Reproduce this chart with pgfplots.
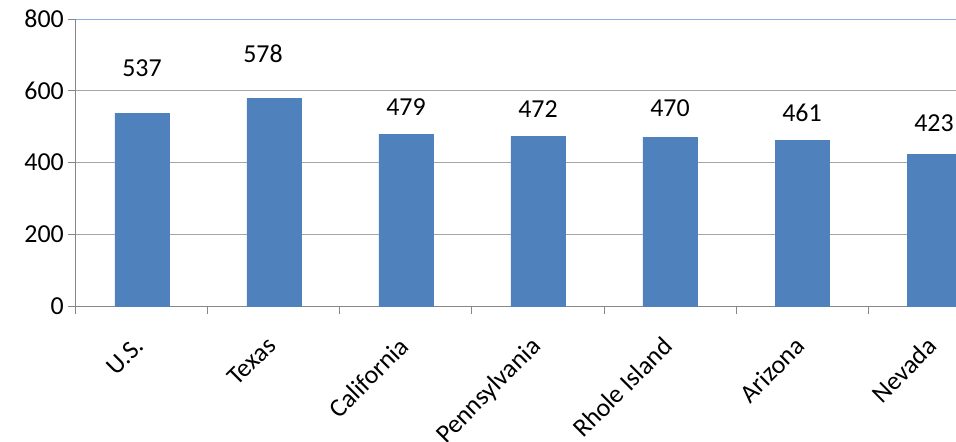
\documentclass[border=0pt]{standalone}
\usepackage{fontspec}
\setmainfont{Carlito}
\usepackage{pgfplots}
\usepackage{pgfplotstable}
\pgfplotsset{compat=1.18}
\definecolor{barblue}{HTML}{4F81BD}
\definecolor{gridgray}{HTML}{A6A6A6}
\definecolor{axisgray}{HTML}{878787}
\definecolor{topblue}{HTML}{8DB1DD}

% dy, dx: where each value label sits, from the bar top
\pgfplotstableread{
x y dy dx
0 537 45 0
1 578 44.5 -11
2 479 27.5 0
3 472 27.7 0
4 470 29 0
5 461 28 0
6 423 31 0
}\rates

\begin{document}
\begin{tikzpicture}
\begin{axis}[
    at={(0,0)}, anchor=south west,
    scale only axis,
    width=924bp, height=287bp,
    xmin=-0.5, xmax=6.5,
    ymin=0, ymax=800,
    axis x line*=bottom,
    axis y line*=left,
    axis line style={draw=axisgray, line width=1bp, -},
    ytick={0,200,400,600},
    extra y ticks={800},
    extra y tick style={major grid style={draw=topblue, line width=1bp}},
    ymajorgrids,
    major grid style={draw=gridgray, line width=1bp},
    xtick={-0.5,0.5,1.5,2.5,3.5,4.5,5.5,6.5},
    x tick label as interval,
    xticklabels={U.S.,Texas,California,Pennsylvania,Rhole Island,Arizona,Nevada},
    tick align=outside,
    major tick length=8bp,
    tick style={draw=axisgray, line width=1bp},
    /pgf/number format/assume math mode=true,
    ticklabel style={font=\fontsize{26}{30}\selectfont},
    xticklabel style={rotate=45, anchor=north east, inner sep=2bp, xshift=-19bp, yshift=-7bp},
    yticklabel style={anchor=east, inner sep=4bp},
    ybar, bar width=54bp,
    nodes near coords,
    point meta=y,
    visualization depends on={\thisrow{dy}\as\dy},
    visualization depends on={\thisrow{dx}\as\dx},
    every node near coord/.append style={anchor=center, yshift=\dy bp, xshift=\dx bp, font=\fontsize{26}{30}\selectfont},
]
\addplot[fill=barblue, draw=barblue] table[x=x, y=y] {\rates};
\end{axis}
\pgfresetboundingbox
\path (-76bp,-136bp) rectangle (880bp,306bp);
\end{tikzpicture}
\end{document}
